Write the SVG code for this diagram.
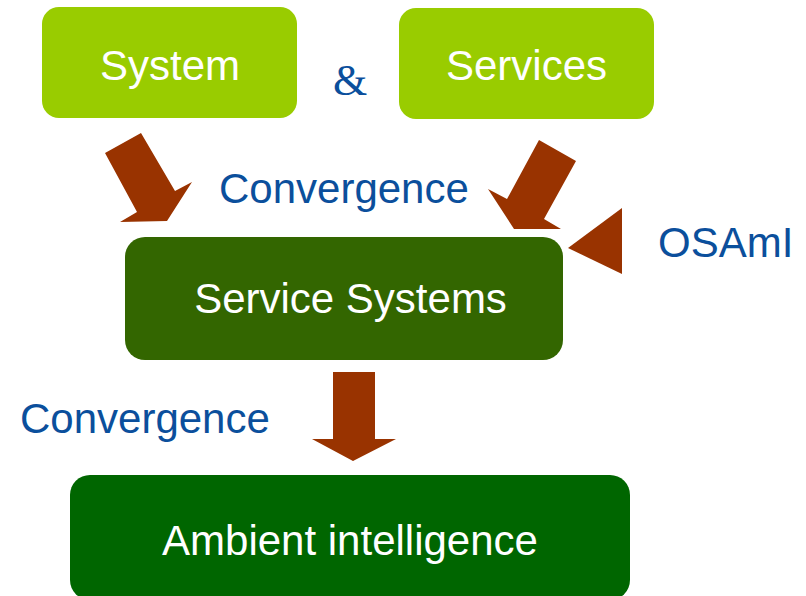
<svg xmlns="http://www.w3.org/2000/svg" width="806" height="596" viewBox="0 0 806 596">
<style>
.box-text{font-family:"Liberation Sans",Arial,sans-serif;font-size:42px;fill:#ffffff;text-anchor:middle}
.lbl{font-family:"Liberation Sans",Arial,sans-serif;font-size:42px;fill:#0B4F9C}
.arrow{fill:#993300}
</style>
<rect width="806" height="596" fill="#ffffff"/>
<g id="system">
<rect x="42" y="7" width="255" height="111" rx="17" fill="#99CC00"/>
<text class="box-text" x="170" y="80">System</text>
</g>
<g id="services">
<rect x="399" y="8" width="255" height="111" rx="17" fill="#99CC00"/>
<text class="box-text" x="526.5" y="80">Services</text>
</g>
<g id="service-systems">
<rect x="125" y="237" width="438" height="123" rx="20" fill="#336600"/>
<text class="box-text" x="350.5" y="313">Service Systems</text>
</g>
<g id="ambient">
<rect x="70" y="475" width="560" height="125" rx="20" fill="#006600"/>
<text class="box-text" x="350" y="555">Ambient intelligence</text>
</g>
<g id="labels">
<text x="350" y="95" font-family="'Liberation Serif','Times New Roman',serif" font-size="44" fill="#0B4F9C" text-anchor="middle">&amp;</text>
<text class="lbl" x="219" y="203">Convergence</text>
<text class="lbl" x="20" y="433">Convergence</text>
<text class="lbl" x="658" y="257">OSAmI</text>
</g>
<g id="connectors">
<polygon class="arrow" points="105,153 141,133 175,191 192,182 167,221 120,222 137,212"/>
<polygon class="arrow" points="539,140 576,161 544,219 561,229 514,229 488,189 507,199"/>
<polygon class="arrow" points="568,248 622,208 622,274"/>
<polygon class="arrow" points="333,372 375,372 375,439 396,439 353,461 312,439 333,439"/>
</g>
</svg>
